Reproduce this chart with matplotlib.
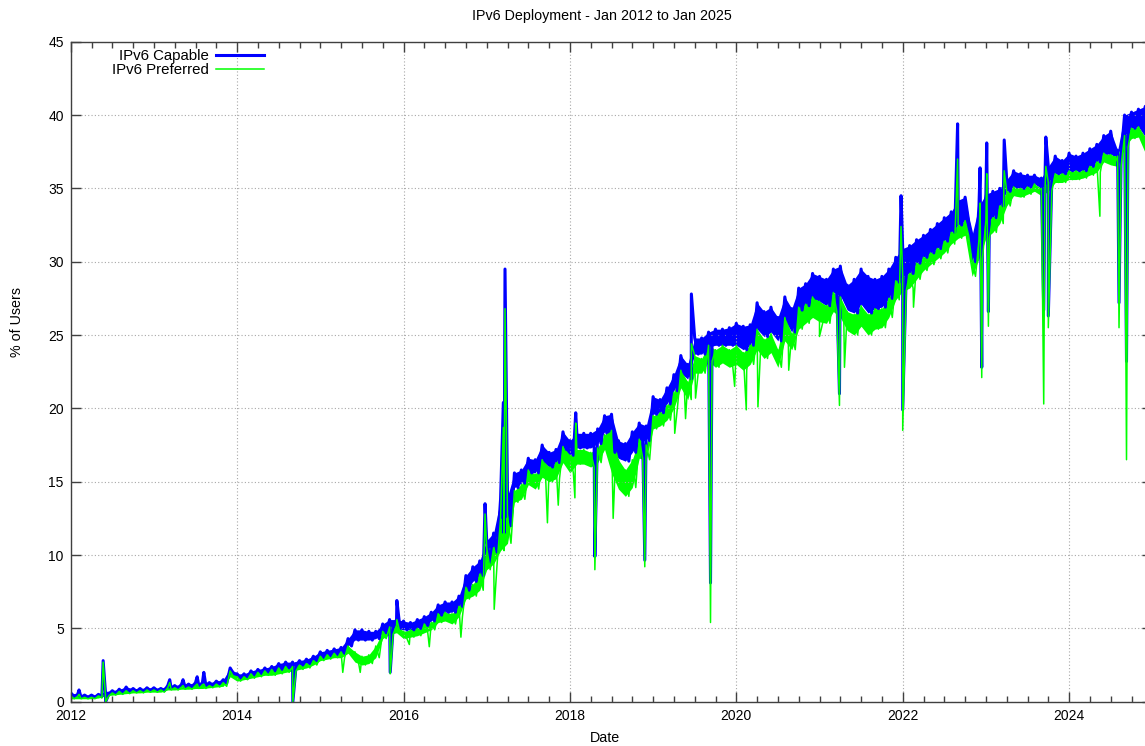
import numpy as np
import matplotlib
matplotlib.use("Agg")
from matplotlib import pyplot as plt
from matplotlib.ticker import MultipleLocator

plt.rcParams['font.family'] = ['Liberation Sans', 'DejaVu Sans']

# monthly band readings, Jan 2012 .. Dec 2024 (12 per row)
# top and bottom of the blue (capable) and green (preferred) bands
cap_hi = [
    0.6, 0.5, 0.45, 0.45, 0.5, 0.7, 0.75, 0.85, 1.0, 0.9, 0.9, 0.95,
    0.95, 0.9, 1.1, 1.1, 1.2, 1.2, 1.3, 1.3, 1.3, 1.4, 1.5, 2.3,
    1.9, 1.9, 2.1, 2.2, 2.3, 2.4, 2.6, 2.7, 2.7, 2.8, 2.9, 3.1,
    3.4, 3.5, 3.6, 3.7, 4.3, 4.9, 4.9, 4.8, 4.8, 5.3, 5.6, 5.6,
    5.5, 5.4, 5.6, 5.8, 6.1, 6.6, 6.8, 6.8, 7.2, 8.6, 9.2, 9.6,
    11.0, 11.5, 13.8, 14.0, 15.6, 15.8, 16.6, 16.5, 17.5, 17.0, 17.2, 18.4,
    17.8, 18.3, 18.3, 18.3, 18.6, 19.5, 19.6, 17.8, 17.6, 18.4, 19.0, 18.8,
    20.8, 20.6, 21.4, 22.3, 23.6, 23.0, 24.8, 24.8, 25.2, 25.4, 25.4, 25.5,
    25.8, 25.6, 25.7, 27.2, 26.6, 26.9, 26.2, 27.6, 26.8, 28.2, 28.5, 29.2,
    29.0, 28.8, 29.5, 29.7, 28.4, 28.8, 29.5, 29.0, 28.8, 29.0, 29.5, 30.3,
    30.9, 31.1, 31.5, 31.8, 32.2, 32.6, 33.0, 33.4, 34.2, 34.4, 31.8, 33.8,
    34.6, 34.8, 35.0, 35.6, 36.2, 36.0, 35.9, 35.9, 35.7, 36.5, 37.2, 36.9,
    37.4, 37.2, 37.4, 37.7, 38.0, 38.6, 38.9, 37.6, 40.0, 40.2, 40.4, 40.6,
]
cap_lo = [
    0.35, 0.3, 0.3, 0.3, 0.35, 0.5, 0.55, 0.6, 0.65, 0.7, 0.7, 0.75,
    0.75, 0.75, 0.9, 0.9, 1.0, 1.0, 1.05, 1.1, 1.1, 1.2, 1.25, 1.9,
    1.6, 1.6, 1.8, 1.9, 2.0, 2.1, 2.2, 2.3, 2.4, 2.5, 2.6, 2.8,
    3.0, 3.1, 3.2, 3.3, 3.8, 4.2, 4.2, 4.2, 4.3, 4.7, 5.0, 5.0,
    4.9, 4.9, 5.0, 5.2, 5.5, 5.9, 6.1, 6.1, 6.5, 7.6, 8.2, 8.6,
    9.5, 10.2, 11.5, 12.0, 14.6, 14.9, 15.6, 15.6, 16.4, 16.0, 16.3, 17.2,
    16.8, 17.3, 17.3, 17.3, 17.6, 18.4, 17.0, 16.6, 16.4, 17.0, 17.8, 17.8,
    19.6, 19.7, 20.3, 21.2, 22.4, 22.0, 23.7, 23.7, 24.2, 24.3, 24.3, 24.3,
    24.3, 24.0, 24.3, 25.4, 24.9, 25.2, 24.6, 26.0, 25.2, 26.7, 27.0, 27.5,
    27.3, 27.0, 27.9, 27.7, 26.7, 26.5, 27.1, 26.5, 26.8, 26.9, 27.5, 28.6,
    29.0, 29.2, 29.9, 30.3, 30.6, 30.9, 31.4, 32.0, 32.5, 32.8, 30.0, 31.6,
    32.8, 33.0, 33.8, 34.8, 35.1, 35.0, 35.1, 35.3, 35.0, 35.4, 36.0, 36.0,
    36.2, 36.2, 36.2, 36.5, 36.8, 37.4, 37.3, 37.2, 38.6, 39.1, 39.2, 38.5,
]
pref_hi = [
    0.4, 0.35, 0.3, 0.3, 0.4, 0.55, 0.6, 0.7, 0.75, 0.75, 0.75, 0.8,
    0.8, 0.8, 0.95, 0.95, 1.0, 1.0, 1.1, 1.15, 1.1, 1.2, 1.3, 2.1,
    1.7, 1.7, 1.9, 2.0, 2.1, 2.2, 2.3, 2.4, 2.4, 2.5, 2.6, 2.8,
    3.1, 3.2, 3.3, 3.4, 3.8, 3.4, 3.1, 3.2, 3.8, 4.8, 5.1, 5.2,
    4.8, 4.9, 5.0, 5.3, 5.4, 6.0, 6.1, 6.0, 6.5, 7.8, 8.0, 8.7,
    10.5, 10.5, 12.5, 12.6, 14.4, 14.8, 15.8, 15.5, 16.5, 16.0, 16.3, 17.4,
    16.8, 17.2, 17.2, 17.0, 17.3, 18.2, 18.5, 16.5, 15.8, 16.5, 17.9, 17.5,
    19.5, 19.7, 20.2, 21.1, 22.6, 21.8, 23.6, 23.4, 24.3, 24.0, 24.3, 24.0,
    24.3, 23.8, 24.3, 25.4, 24.7, 25.1, 24.0, 26.2, 25.1, 26.9, 27.1, 27.6,
    27.3, 27.0, 27.9, 27.6, 26.6, 26.4, 27.0, 26.4, 26.8, 26.8, 27.5, 28.7,
    29.0, 29.2, 29.9, 30.3, 30.6, 30.9, 31.4, 32.0, 32.5, 32.8, 30.0, 31.5,
    32.8, 33.0, 33.8, 34.8, 35.1, 35.0, 35.1, 35.3, 35.0, 35.4, 36.0, 36.0,
    36.2, 36.2, 36.2, 36.5, 36.8, 37.4, 37.3, 37.2, 38.6, 39.1, 39.2, 38.5,
]
pref_lo = [
    0.2, 0.2, 0.2, 0.2, 0.25, 0.4, 0.45, 0.5, 0.55, 0.6, 0.6, 0.65,
    0.65, 0.65, 0.8, 0.8, 0.85, 0.85, 0.9, 0.9, 0.95, 1.0, 1.05, 1.7,
    1.4, 1.5, 1.6, 1.7, 1.8, 1.8, 1.9, 2.0, 2.1, 2.2, 2.3, 2.5,
    2.8, 2.9, 3.0, 3.0, 3.3, 2.7, 2.5, 2.6, 3.0, 4.3, 4.6, 4.7,
    4.3, 4.4, 4.5, 4.7, 4.9, 5.4, 5.5, 5.3, 5.8, 7.0, 7.2, 7.6,
    9.0, 9.4, 10.3, 10.8, 13.6, 13.8, 14.8, 14.5, 15.3, 15.0, 15.2, 16.3,
    15.6, 16.2, 16.2, 16.0, 16.3, 17.2, 15.6, 14.5, 14.0, 14.6, 16.6, 16.5,
    18.6, 18.8, 19.2, 20.0, 21.4, 20.6, 22.4, 22.4, 23.2, 22.8, 23.1, 22.8,
    23.0, 22.6, 23.0, 24.0, 23.4, 23.8, 22.8, 24.6, 24.0, 25.4, 25.8, 26.2,
    25.9, 25.8, 26.6, 26.2, 25.3, 25.0, 25.6, 25.0, 25.4, 25.5, 26.2, 27.4,
    28.0, 28.2, 28.8, 29.4, 29.8, 30.2, 30.6, 31.2, 31.6, 31.8, 29.0, 30.2,
    31.6, 32.0, 32.6, 33.8, 34.5, 34.4, 34.6, 34.8, 34.5, 34.8, 35.4, 35.4,
    35.6, 35.6, 35.7, 35.9, 36.1, 36.8, 36.6, 36.5, 37.8, 38.4, 38.5, 37.4,
]

# single-day outliers seen in both series (decimal year, capable %, preferred %)
spike_dates = [2012.10, 2012.39, 2012.42, 2013.19, 2013.35, 2013.52, 2013.60,
               2014.67, 2015.84, 2015.92, 2016.98, 2017.20, 2017.22, 2018.07,
               2018.30, 2018.90, 2019.46, 2019.69, 2021.24, 2021.98, 2022.00,
               2022.66, 2022.93, 2022.95, 2023.01, 2023.03, 2023.22, 2023.695,
               2023.72, 2023.75, 2024.60, 2024.69]
spike_cap = [0.8, 2.8, 0.0, 1.5, 1.5, 1.7, 2.0, 0.0, 2.0, 6.9, 13.5, 20.4,
             29.5, 19.7, 9.9, 9.65, 27.8, 8.1, 21.0, 34.5, 19.9, 39.4, 36.4,
             22.8, 38.1, 26.6, 38.3, 26.7, 38.5, 26.3, 27.2, 23.2]
spike_pref = [0.5, 2.7, 0.0, 1.3, 1.1, 1.2, 1.2, 0.0, 1.9, 5.6, 12.8, 18.7,
              26.8, 19.0, 9.0, 9.2, 24.4, 5.4, 20.2, 32.4, 18.5, 37.0, 34.0,
              22.1, 36.0, 25.6, 36.2, 20.3, 36.5, 25.5, 25.5, 16.5]

# dips seen only in the preferred series
dip_dates = [2015.27, 2015.48, 2016.07, 2016.31, 2016.69, 2017.09, 2017.73,
             2017.86, 2018.06, 2018.52, 2019.26, 2019.39, 2019.51, 2019.98,
             2020.12, 2020.26, 2020.63, 2021.00, 2021.30, 2022.13, 2024.37]
dip_pref = [2.0, 2.0, 3.9, 3.75, 4.4, 6.3, 12.2, 13.4, 13.9, 12.5, 18.3, 19.3,
            20.7, 21.5, 19.9, 20.1, 22.6, 24.9, 22.8, 26.9, 33.1]

year_ticks = [2012, 2014, 2016, 2018, 2020, 2022, 2024]


def build_series(hi, lo, extra_x, extra_y):
    months = 2012 + np.arange(len(hi)) / 12.0
    x = np.concatenate([months, months + 1 / 24.0] + extra_x)
    y = np.concatenate([hi, lo] + extra_y)
    order = np.argsort(x, kind="stable")
    return x[order], y[order]


def main():
    fig = plt.figure(figsize=(11.45, 7.46), dpi=100)
    ax = fig.add_axes([70.7 / 1145, 44.3 / 746, 1081.6 / 1145, 660 / 746])

    months = 2012 + np.arange(len(cap_hi)) / 12.0
    xc, yc = build_series(cap_hi, cap_lo, [spike_dates], [spike_cap])
    xp, yp = build_series(pref_hi, pref_lo, [spike_dates, dip_dates],
                          [spike_pref, dip_pref])

    ax.fill_between(months, cap_lo, cap_hi, color='#0000ff', lw=0)
    ax.plot(xc, yc, color='#0000ff', lw=2.2, label='IPv6 Capable')
    ax.fill_between(months, pref_lo, pref_hi, color='#00ff00', lw=0)
    ax.plot(xp, yp, color='#00ff00', lw=1.1, label='IPv6 Preferred')

    ax.set_xlim(2012, 2025)
    ax.set_ylim(0, 45)
    ax.set_xticks(year_ticks)
    ax.set_xticklabels([str(y) for y in year_ticks])
    ax.xaxis.set_minor_locator(MultipleLocator(0.25))
    ax.set_yticks(np.arange(0, 46, 5))
    ax.tick_params(which='both', direction='in', top=True, right=True,
                   labelsize=10, colors='#404040', labelcolor='black')
    ax.tick_params(which='major', length=7, width=1, pad=5)
    ax.tick_params(which='minor', length=4, width=1)
    for s in ax.spines.values():
        s.set_color('#404040')
        s.set_linewidth(1)
    ax.grid(True, which='major', linestyle=(0, (1, 2)), color='#a8a8a8', lw=0.8)

    ax.legend(loc='upper left', bbox_to_anchor=(41.0 / 1081.6, 1 - 7.5 / 660),
              frameon=False, markerfirst=False, fontsize=10.8,
              handlelength=3.17, handletextpad=0.5, labelspacing=0.0,
              borderpad=0, borderaxespad=0)

    fig.text(602 / 1145, 1 - 16 / 746, 'IPv6 Deployment - Jan 2012 to Jan 2025',
             ha='center', va='center', fontsize=10.3)
    fig.text(605 / 1145, 1 - 738 / 746, 'Date', ha='center', va='center',
             fontsize=10.3)
    fig.text(17 / 1145, 1 - 322 / 746, '% of Users', ha='center', va='center',
             rotation=90, fontsize=10.3)

    fig.savefig('out.png', dpi=100)


if __name__ == '__main__':
    main()
